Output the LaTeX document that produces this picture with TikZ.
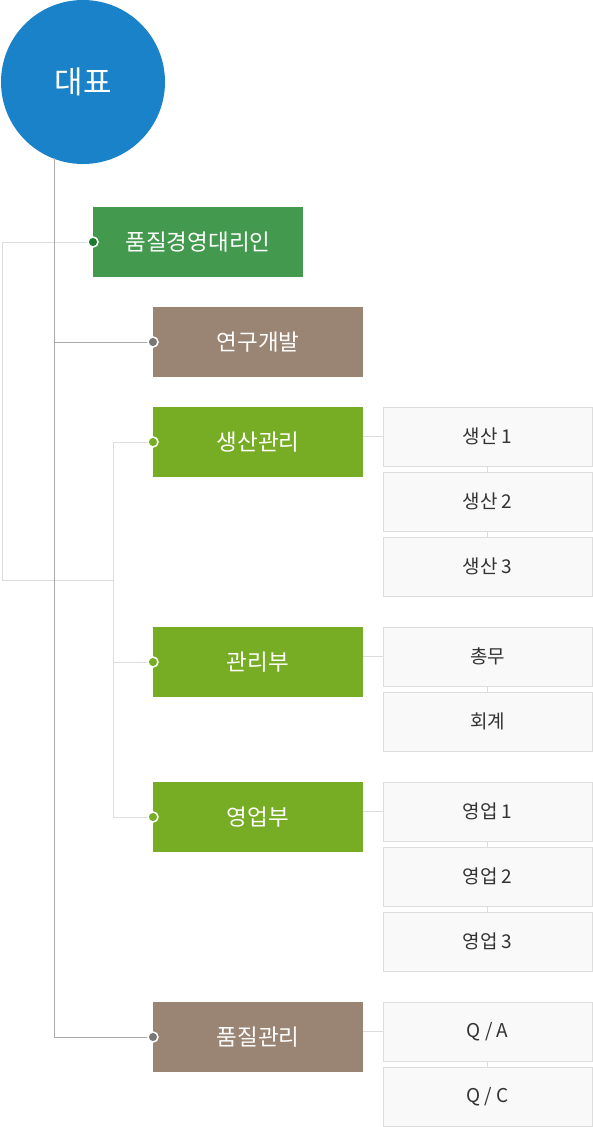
\documentclass[tikz,border=0pt]{standalone}
\usepackage{fontspec}
\newfontfamily\kr{Noto Sans CJK KR}
\usetikzlibrary{positioning}
\definecolor{mblue}{HTML}{1A82C8}
\definecolor{mgreen}{HTML}{439A4E}
\definecolor{mdkgreen}{HTML}{1B7A2C}
\definecolor{mlime}{HTML}{76AD25}
\definecolor{mbrown}{HTML}{9A8574}
\definecolor{mdot}{HTML}{777777}
\definecolor{mtrunk}{HTML}{AAAAAA}
\definecolor{mlight}{HTML}{DDDDDD}
\definecolor{mpale}{HTML}{F9F9F9}
\definecolor{mtext}{HTML}{333333}
\tikzstyle{ceo} = [circle, minimum size=164pt, inner sep=0, fill=mblue, text=white, font=\kr\fontsize{31}{34}\selectfont]
\tikzstyle{dept} = [rectangle, minimum width=210pt, minimum height=70pt, inner sep=0, outer sep=0, text=white, font=\kr\fontsize{22.5}{26}\selectfont]
\tikzstyle{team} = [rectangle, minimum width=209pt, minimum height=59pt, inner sep=0, outer sep=0, fill=mpale, draw=mlight, line width=1pt, text=mtext, font=\kr\fontsize{19}{22}\selectfont]
\tikzstyle{trunk} = [draw=mtrunk, line width=1pt]
\tikzstyle{branch} = [draw=mlight, line width=1pt]
\tikzstyle{dot} = [circle, inner sep=0, minimum size=10pt, draw=white, line width=1.5pt]

\begin{document}
\begin{tikzpicture}[node distance=6pt]
  \useasboundingbox (0,0) rectangle (593pt,-1127pt);
  \node (ceo) [ceo] at (83pt,-82pt) {대표};
  \node (qmr) [dept, fill=mgreen] at (198pt,-242pt) {품질경영대리인};
  \node (rnd) [dept, fill=mbrown, below=30pt of qmr, xshift=60pt] {연구개발};
  \node (prod) [dept, fill=mlime, below=30pt of rnd] {생산관리};
  \node (admin) [dept, fill=mlime, below=150pt of prod] {관리부};
  \node (sales) [dept, fill=mlime, below=85pt of admin] {영업부};
  \node (qc) [dept, fill=mbrown, below=150pt of sales] {품질관리};
  % teams
  \node (p1) [team, right=20pt of prod.north east, anchor=north west] {생산 1};
  \node (p2) [team, below=of p1] {생산 2};
  \node (p3) [team, below=of p2] {생산 3};
  \node (a1) [team, right=20pt of admin.north east, anchor=north west] {총무};
  \node (a2) [team, below=of a1] {회계};
  \node (s1) [team, right=20pt of sales.north east, anchor=north west] {영업 1};
  \node (s2) [team, below=of s1] {영업 2};
  \node (s3) [team, below=of s2] {영업 3};
  \node (q1) [team, right=20pt of qc.north east, anchor=north west] {Q / A};
  \node (q2) [team, below=of q1] {Q / C};
  % lines
  \coordinate (top) at (54pt,-158pt);
  \coordinate (edge) at (2pt,-580pt);
  \coordinate (fork) at (113pt,-580pt);
  \draw [branch] (qmr.west) -| (edge) -- (fork);
  \draw [branch] (prod.west) -| (fork);
  \draw [branch] (admin.west) -| (fork);
  \draw [branch] (sales.west) -| (fork);
  \draw [trunk] (top) |- (rnd.west);
  \draw [trunk] (top) |- (qc.west);
  \foreach \d/\t in {prod/p1, admin/a1, sales/s1, qc/q1}
    \draw [branch] (\t.west -| \d.east) -- (\t.west);
  \foreach \a/\b in {p1/p2, p2/p3, a1/a2, s1/s2, s2/s3, q1/q2}
    \draw [branch] (\a.south) -- (\b.north);
  % dots
  \node (dqmr) [dot, fill=mdkgreen] at (qmr.west) {};
  \node (drnd) [dot, fill=mdot] at (rnd.west) {};
  \node (dprod) [dot, fill=mlime] at (prod.west) {};
  \node (dadmin) [dot, fill=mlime] at (admin.west) {};
  \node (dsales) [dot, fill=mlime] at (sales.west) {};
  \node (dqc) [dot, fill=mdot] at (qc.west) {};
\end{tikzpicture}
\end{document}
